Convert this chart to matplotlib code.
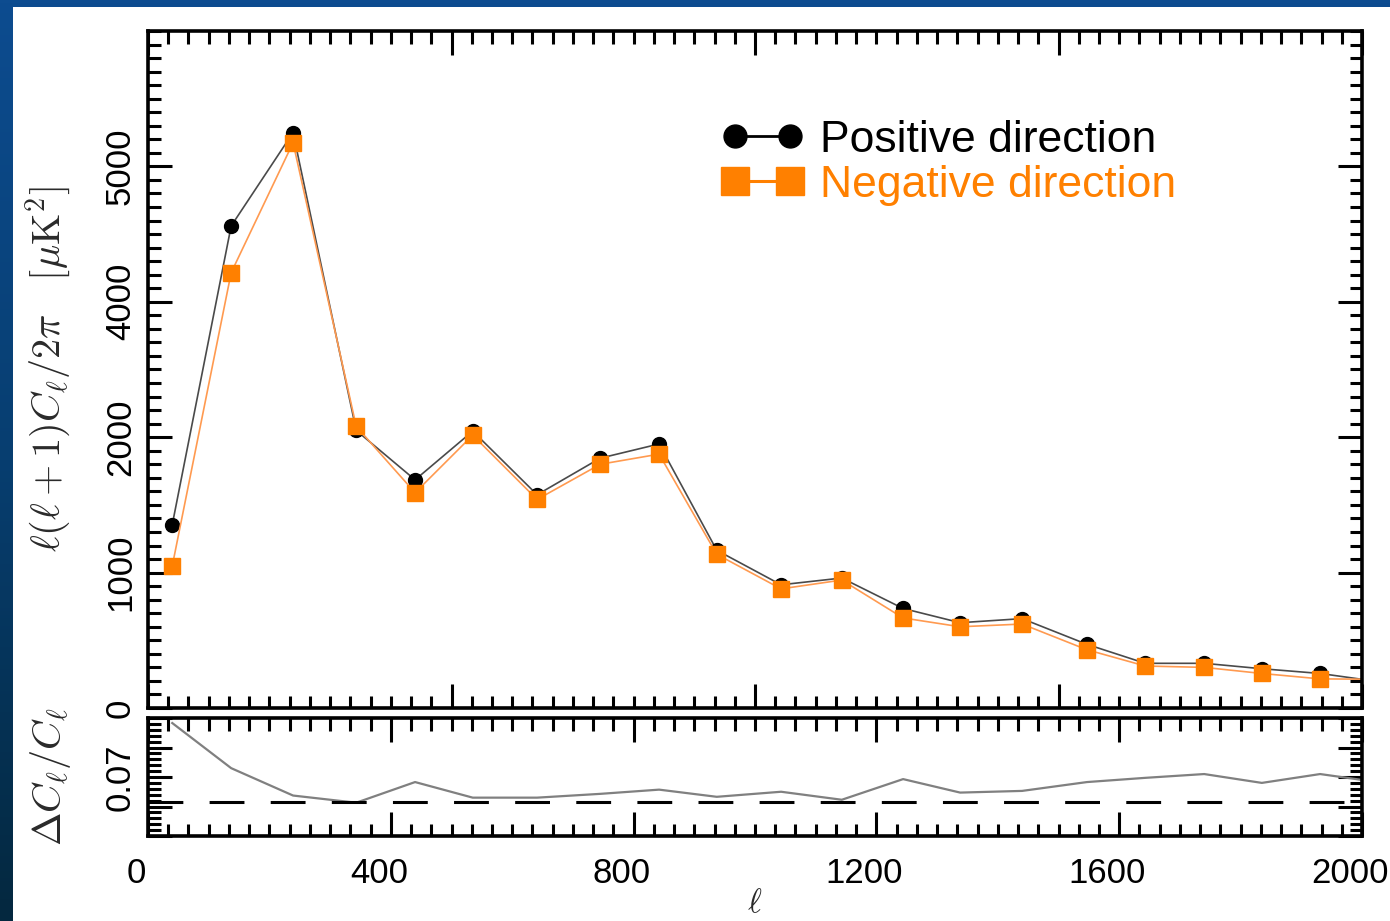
import numpy as np
import matplotlib.pyplot as plt
from matplotlib.ticker import MultipleLocator
from matplotlib.lines import Line2D
from matplotlib.patches import Rectangle
from matplotlib.colors import LinearSegmentedColormap
from matplotlib.transforms import ScaledTranslation

plt.rcParams['font.family'] = ['Liberation Sans', 'DejaVu Sans']
plt.rcParams['mathtext.fontset'] = 'cm'

# binned multipoles and band powers for the two hemispheres
ell = [40, 137, 239, 343, 440, 535, 641, 745, 842, 937, 1043,
       1143, 1244, 1338, 1440, 1547, 1643, 1740, 1835, 1931, 2035]
cl_pos = [1355, 3560, 4250, 2050, 1685, 2045, 1575, 1845, 1950, 1165, 910,
          960, 735, 630, 660, 470, 330, 330, 290, 255, 190]
cl_neg = [1050, 3215, 4175, 2080, 1590, 2015, 1540, 1800, 1875, 1135, 880,
          945, 665, 600, 620, 430, 310, 300, 255, 215, 212]
# fractional difference between the hemispheres
dcl = [0.198, 0.091, 0.026, 0.009, 0.058, 0.021, 0.021, 0.030, 0.040, 0.023, 0.035,
       0.016, 0.065, 0.033, 0.037, 0.058, 0.068, 0.077, 0.056, 0.077, 0.056]
ref_level = 0.01

y_ticks = [0, 1000, 2000, 3000, 4000]
y_ticklabels = ['0', '1000', '2000', '4000', '5000']
x_ticks = [0, 400, 800, 1200, 1600, 2000]

W, H = 1390, 921
fig = plt.figure(figsize=(W / 100, H / 100), dpi=100)

# slide background peeking out at left and top
bg = fig.add_axes([0, 0, 1, 1], zorder=-10)
bg.axis('off')
slide = LinearSegmentedColormap.from_list('slide', ['#04283f', '#073e70', '#0d4c90'])
bg.imshow(np.linspace(0, 1, 256).reshape(-1, 1), cmap=slide, origin='lower',
          extent=[0, 1, 0, 1], aspect='auto')
bg.set_xlim(0, 1)
bg.set_ylim(0, 1)
fig.patches.append(Rectangle((13 / W, 0), 1 - 13 / W, 1 - 7 / H, transform=fig.transFigure,
                             facecolor='white', edgecolor='none', zorder=-5))

ax = fig.add_axes([148 / W, 1 - 708 / H, 1214 / W, 677 / H])
ax2 = fig.add_axes([148 / W, 1 - 836 / H, 1214 / W, 118 / H])


def style(a):
    a.tick_params(which='both', direction='in', top=True, right=True, width=2.2)
    a.tick_params(which='major', length=17)
    a.tick_params(which='minor', length=9)
    for s in a.spines.values():
        s.set_linewidth(2.6)


ax.plot(ell, cl_pos, color='#4a4a4a', lw=1.2, marker='o', ms=10,
        mfc='black', mec='black')
ax.plot(ell, cl_neg, color='#ff9a50', lw=1.2, marker='s', ms=12,
        mfc='#ff8000', mec='#ff8000')
ax.set_xlim(0, 2000)
ax.set_ylim(0, 5000)
ax.xaxis.set_major_locator(MultipleLocator(500))
ax.xaxis.set_minor_locator(MultipleLocator(100 / 3))
ax.set_yticks(y_ticks, y_ticklabels)
ax.yaxis.set_minor_locator(MultipleLocator(100))
style(ax)
ax.tick_params(axis='x', labelbottom=False)
ax.tick_params(axis='y', labelsize=25, pad=8, labelrotation=90)
for lab in ax.get_yticklabels():
    lab.set_va('center')
ax.set_ylabel(r'$\ell(\ell+1)C_\ell/2\pi\quad[\mu{\rm K}^2]$', fontsize=29, color='#2a2a2a')
ax.yaxis.set_label_coords(-0.062, 0.5)

handles = [Line2D([], [], color='black', lw=2, marker='o', ms=16.5, mfc='black', mec='black'),
           Line2D([], [], color='#ff8000', lw=2.2, marker='s', ms=20, mfc='#ff8000', mec='#ff8000')]
ax.legend(handles, ['Positive direction', 'Negative direction'], loc='upper left',
          bbox_to_anchor=(0.4728, 0.869), frameon=False, fontsize=32, numpoints=2,
          handlelength=1.84, handletextpad=0.36, labelspacing=0.09,
          borderpad=0, borderaxespad=0, labelcolor=['black', '#ff8000'])

ax2.plot(ell, dcl, color='#808080', lw=1.6)
ax2.axhline(ref_level, color='black', lw=2.2, dashes=(11.4, 8.6))
ax2.set_xlim(0, 2000)
ax2.set_ylim(-0.07, 0.21)
ax2.set_xticks(x_ticks)
ax2.xaxis.set_minor_locator(MultipleLocator(100 / 3))
ax2.set_yticks([-0.07, 0, 0.07, 0.14, 0.21], ['', '', '0.07', '', ''])
ax2.yaxis.set_minor_locator(MultipleLocator(0.014))
style(ax2)
ax2.tick_params(axis='x', labelsize=25, pad=15)
ax2.tick_params(axis='y', labelsize=25, pad=8, labelrotation=90)
for lab in ax2.get_yticklabels():
    lab.set_va('center')
for lab in ax2.get_xticklabels():
    lab.set_transform(lab.get_transform() + ScaledTranslation(-0.12, 0, fig.dpi_scale_trans))
ax2.set_ylabel(r'$\Delta C_\ell/C_\ell$', fontsize=29, color='#2a2a2a')
ax2.yaxis.set_label_coords(-0.062, 0.5)
ax2.set_xlabel(r'$\ell$', fontsize=24, color='#2a2a2a')
ax2.xaxis.set_label_coords(0.5, -0.44)

fig.savefig('out.png', dpi=100)
